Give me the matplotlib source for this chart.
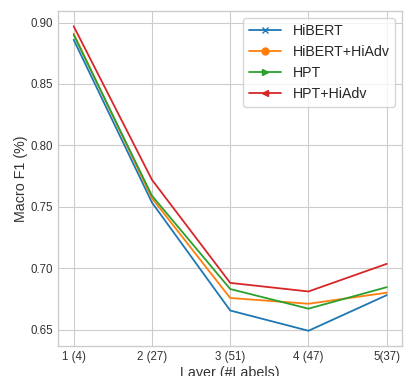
import matplotlib
matplotlib.use("Agg")
from matplotlib import pyplot as plt
from matplotlib.lines import Line2D

capas = ["1 (4)", "2 (27)", "3 (51)", "4 (47)", "5(37)"]
x = [1, 2, 3, 4, 5]
hibert = [0.886, 0.7535, 0.6655, 0.649, 0.678]
hibert_hiadv = [0.891, 0.757, 0.6757, 0.671, 0.680]
hpt = [0.890, 0.759, 0.683, 0.667, 0.6845]
hpt_hiadv = [0.897, 0.772, 0.688, 0.681, 0.7035]

nombres = ["HiBERT", "HiBERT+HiAdv", "HPT", "HPT+HiAdv"]
series = [hibert, hibert_hiadv, hpt, hpt_hiadv]
colores = ["#1f77b4", "#ff7f0e", "#2ca02c", "#d62728"]
marcas = ["x", "o", ">", "<"]

plt.style.use("seaborn-v0_8-whitegrid")
plt.rcParams["font.family"] = ["Liberation Sans", "DejaVu Sans"]

fig = plt.figure(figsize=(4.04, 3.76), dpi=100)
ax = fig.add_axes([0.1436, 0.0798, 0.8524, 0.8909])

for valores, color in zip(series, colores):
    ax.plot(x, valores, color=color, linewidth=1.3)

# los marcadores solo aparecen en la leyenda
manijas = [Line2D([], [], color=c, marker=m, markersize=5, linewidth=1.3)
           for c, m in zip(colores, marcas)]
ax.legend(manijas, nombres, loc="upper right", frameon=True, fontsize=10.2,
          handlelength=2.3)

ax.set_xticks(x)
ax.set_xticklabels(capas)
ax.set_yticks([0.65, 0.70, 0.75, 0.80, 0.85, 0.90])
ax.tick_params(labelsize=8.3, labelcolor="#333333")
ax.set_ylabel("Macro F1 (%)", fontsize=10.3, color="#333333", labelpad=2)
ax.set_xlabel("Layer (#Labels)", fontsize=10.3, color="#333333", labelpad=2)
for s in ax.spines.values():
    s.set_visible(True)
    s.set_color("#cccccc")

fig.savefig("out.png", dpi=100)
